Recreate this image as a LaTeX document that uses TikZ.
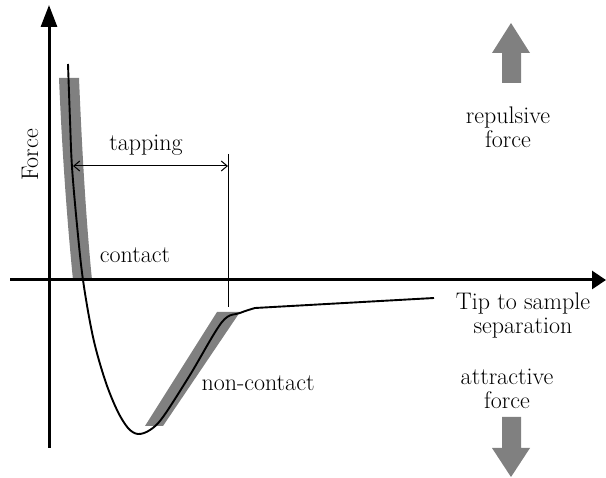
\documentclass[tikz,border=0pt]{standalone}
\usetikzlibrary{arrows.meta}
\begin{document}
\begin{tikzpicture}[x=1pt,y=-1pt,
  lbl/.style={inner sep=0pt,align=center,font=\fontsize{24}{24}\selectfont},
  axis/.style={line width=3pt},
  band/.style={fill=black!50},
  curve/.style={line width=1.9pt,line join=round},
  thin/.style={line width=1pt}]
\useasboundingbox (0,0) rectangle (606,478);
% bands
\fill[band] (59,78) -- (79,78) .. controls (82,150) and (86,220) .. (92,280) -- (73,280) .. controls (67,220) and (62,150) .. (59,78) -- cycle;
\fill[band] (145,426) -- (163,426) -- (240,312) -- (217,312) -- cycle;
% axes
\coordinate (yb) at (49,448); \coordinate (yt) at (49,5);
\coordinate (xl) at (10,280); \coordinate (xr) at (606,280);
\draw[axis,-{Triangle[length=22pt,width=16pt]}] (yb) -- (yt);
\draw[axis,-{Triangle[length=14pt,width=18pt]}] (xl) -- (xr);
% curve
\draw[curve] plot[smooth,tension=0.55] coordinates {(68,64) (70,120) (72,167) (77,225) (83,280) (93,337) (105,380) (117,410) (128,428) (138,434) (150,430) (163,417) (190,375) (222,322) (240,313) (255,308)} -- (434,298);
% tapping
\coordinate (vt) at (228,154); \coordinate (vb) at (228,307);
\draw[thin] (vt) -- (vb);
\coordinate (ta) at (73,166); \coordinate (tb) at (228,166);
\draw[thin,{Straight Barb[length=6pt,width=10pt]}-{Straight Barb[length=6pt,width=10pt]}] (ta) -- (tb);
% labels
\node[lbl] (tap) at (146,145) {tapping};
\node[lbl] (con) at (135,255) {contact};
\node[lbl,rotate=90] (force) at (30,155) {Force};
\node[lbl] (ncon) at (258,383) {non-contact};
\node[lbl] (rep) at (508,127) {repulsive\\force};
\node[lbl] (sep) at (523,316) {Tip to sample\\separation};
\node[lbl] (att) at (507,389) {attractive\\force};
% big arrows
\fill[band] (511,23) -- (530,53) -- (521,53) -- (521,83) -- (502,83) -- (502,53) -- (492,53) -- cycle;
\fill[band] (511,477) -- (530,448) -- (521,448) -- (521,417) -- (502,417) -- (502,448) -- (492,448) -- cycle;
\end{tikzpicture}
\end{document}
